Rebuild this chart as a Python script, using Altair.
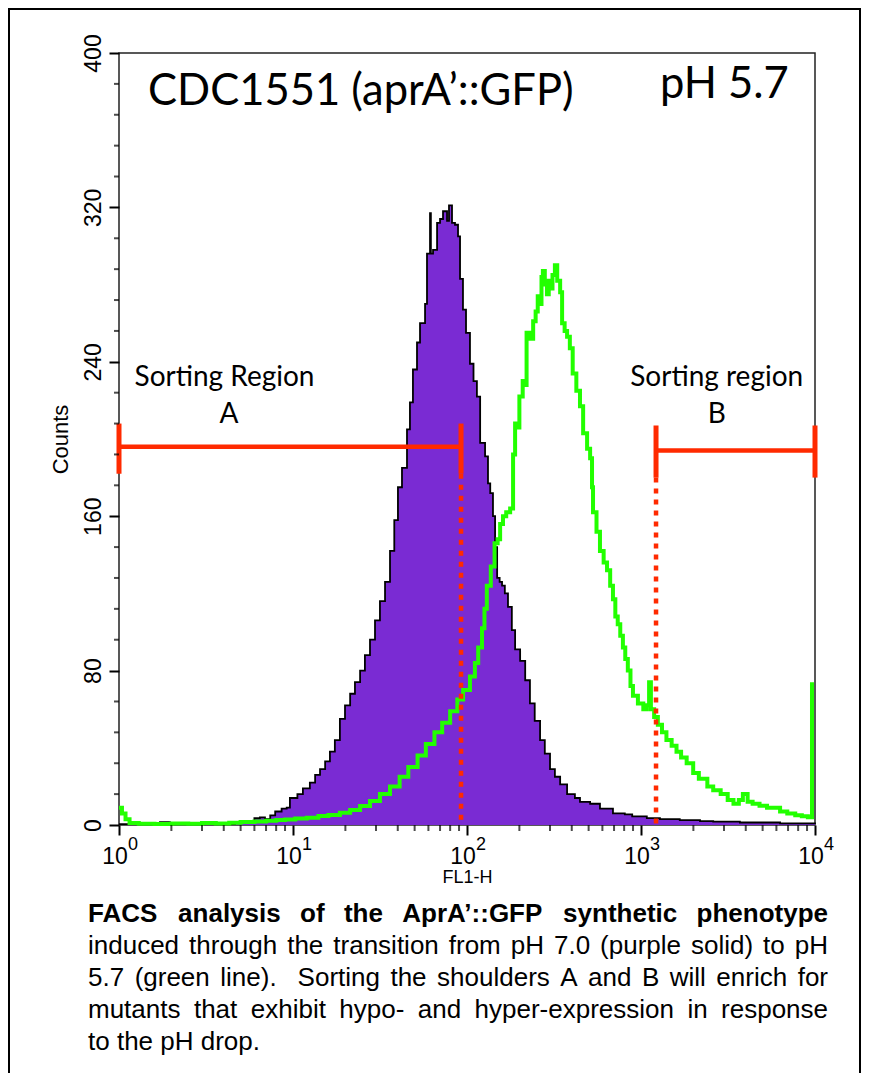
import altair as alt
import pandas as pd

# ---------------- data ----------------
# pH 7.0 histogram (purple, filled)  -- FL1-H value, counts
purple_fl1 = [1.0, 1.5, 1.72, 1.96, 2.56, 2.73, 3.33, 3.56, 4.64, 5.3,
              6.0, 6.45, 6.9, 7.4, 7.9, 8.6, 9.2, 9.6, 10.6, 11.4,
              12.5, 13.4, 14.3, 15.3, 16.3, 17.4, 18.6, 19.9, 21.3, 22.7,
              24.3, 25.9, 27.7, 29.6, 31.6, 33.8, 36.1, 38.2, 40.1, 42.3,
              45.2, 47.0, 48.9, 51.6, 53.7, 57.4, 58.9, 61.3, 62.0, 63.8,
              67.3, 70.0, 72.8, 76.8, 78.8, 82.0, 85.3, 88.8, 91.2, 94.8,
              98.7, 104, 109, 114, 119, 127, 132, 136, 141, 145,
              149, 154, 159, 165, 172, 181, 189, 202, 216, 230,
              245, 263, 280, 300, 320, 343, 376, 417, 446, 510,
              581, 690, 807, 890, 1080, 1285, 1670, 2183, 2600, 3700,
              6300, 10000]
purple_counts = [0.5, 0.5, 1.5, 0.5, 1, 0.5, 1.5, 0.5, 1.5, 1.5,
                 3.5, 4, 3, 5, 7, 8.5, 9, 14, 16, 19,
                 22, 26, 29, 33, 38, 44, 55, 62, 68, 74,
                 80, 88, 96, 106, 116, 126, 142, 158, 175, 185,
                 205, 219, 236, 250, 260, 270, 296, 317, 296, 298,
                 312, 314, 318, 313, 321, 312, 311, 305, 283, 267,
                 255, 239, 230, 222, 198, 191, 177, 172, 160, 144,
                 128, 126, 124, 120, 113, 101, 91, 85, 75, 63,
                 54, 44, 37, 29, 25, 21, 16, 14, 12, 11,
                 8.5, 6, 5.5, 4.5, 3.6, 3, 2.5, 2, 1.7, 1.3,
                 0.8, 0.5]

# pH 5.7 histogram (green line)
green_fl1 = [1.0, 1.04, 1.09, 1.15, 1.3, 1.6, 2.0, 2.5, 3.0, 3.6,
             4.3, 5.0, 6.0, 7.0, 8.0, 9.0, 10.3, 12.0, 14.0, 16.0,
             18.6, 21.3, 24.3, 27.7, 31.6, 36.1, 41.0, 46.0, 52.0, 58.0,
             65.0, 72.0, 80.0, 88.0, 95.0, 104, 111, 116, 122, 126,
             130, 137, 144, 150, 155, 161, 168, 177, 184, 189,
             194, 200, 209, 215, 220, 230, 240, 248, 255, 262,
             268, 273, 280, 288, 295, 300, 310, 320, 330, 343,
             352, 364, 376, 390, 405, 425, 446, 465, 490, 510,
             523, 530, 555, 581, 610, 638, 665, 690, 712, 735,
             760, 787, 812, 840, 870, 899, 960, 1031, 1080, 1113,
             1140, 1190, 1250, 1320, 1400, 1500, 1600, 1700, 1830, 1995,
             2150, 2406, 2600, 2870, 3150, 3400, 3650, 3850, 4100, 4380,
             4800, 5300, 5740, 6300, 6930, 7700, 8400, 9100, 9610]
green_counts = [9, 6, 3, 1, 0.6, 0.5, 0.8, 0.6, 1.0, 0.8,
                1.2, 1.5, 1.8, 2.2, 2.6, 2.8, 3.4, 3.8, 4.6, 5.2,
                6.4, 7.8, 9.8, 12.5, 16, 20, 25, 30, 36, 42,
                48, 53, 59, 65, 70, 77, 84, 92, 102, 112,
                124, 134, 146, 148, 156, 160, 162, 164, 192, 208,
                206, 222, 230, 228, 255, 252, 261, 266, 274, 270,
                284, 287, 280, 275, 282, 278, 285, 290, 282, 276,
                260, 256, 253, 247, 234, 225, 217, 203, 195, 190,
                175, 162, 152, 142, 136, 132, 124, 117, 108, 104,
                98, 92, 86, 80, 72, 67, 63, 60, 62, 74,
                60, 56, 52, 48, 44, 41, 38, 35, 32, 27,
                24, 20, 18, 16, 13, 11, 13, 16, 12, 11,
                10, 9, 9, 7, 6, 5, 4.5, 4, 74]

# sorting regions A and B
region_x1 = [1.0, 1220]
region_x2 = [92.4, 10000]
region_y = [196, 194]
cap_lo = [182, 180]
cap_hi = [208, 207]
gate_x = [92.4, 1220]          # dotted gate lines
gate_top = [182, 180]

# axes
y_major = [0, 80, 160, 240, 320, 400]
y_minor = [16, 32, 48, 64, 96, 112, 128, 144, 176, 192, 208, 224,
           256, 272, 288, 304, 336, 352, 368, 384]
x_major = [1, 10, 100, 1000, 10000]
x_exponents = ["0", "1", "2", "3", "4"]
x_minor = [2, 3, 4, 5, 6, 7, 8, 9,
           20, 30, 40, 50, 60, 70, 80, 90,
           200, 300, 400, 500, 600, 700, 800, 900,
           2000, 3000, 4000, 5000, 6000, 7000, 8000, 9000]

# annotation texts
big_texts = ["CDC1551 (aprA\u2019::GFP)", "pH 5.7"]
big_x = [1.468, 1286]
big_y = [373, 376.7]
sort_texts = ["Sorting Region", "A", "Sorting region", "B"]
sort_x = [4.04, 4.29, 2723, 2723]
sort_y = [227.5, 208.3, 227.3, 208.2]

caption_lines = [
    "FACS analysis of the AprA\u2019::GFP synthetic phenotype",
    "induced through the transition from pH 7.0 (purple solid) to pH",
    "5.7 (green line).  Sorting the shoulders A and B will enrich for",
    "mutants that exhibit hypo- and hyper-expression in response",
    "to the pH drop.",
]
caption_bold = [True, False, False, False, False]
caption_justify = [True, True, True, True, False]

# ---------------- styling ----------------
W, H = 696, 772
PURPLE = "#7a2bd3"
GREEN = "#22ff00"
RED = "#ff2a00"
SANS = "Liberation Sans, Arial, Helvetica, sans-serif"
CALI = "Lato, Open Sans, sans-serif"

X_SCALE = alt.Scale(type="log", domain=[1, 10000], nice=False)
Y_SCALE = alt.Scale(domain=[0, 400], nice=False, zero=False)

X_AXIS = alt.Axis(values=x_major, labels=False, tickSize=10, tickWidth=2,
                  tickColor="black", domain=False, grid=False,
                  title="FL1-H", titlePadding=32)
Y_AXIS = alt.Axis(values=y_major, tickSize=10, tickWidth=2, tickColor="black",
                  domain=False, grid=False, labelAngle=270, labelAlign="center",
                  labelBaseline="alphabetic", labelPadding=9, labelFont=SANS,
                  labelFontSize=23, labelColor="black", title="Counts",
                  titlePadding=10)


def X(f):
    return alt.X(f"{f}:Q", scale=X_SCALE, axis=X_AXIS)


def Y(f):
    return alt.Y(f"{f}:Q", scale=Y_SCALE, axis=Y_AXIS)


purple = pd.DataFrame({"fl1": purple_fl1, "count": purple_counts})
green = pd.DataFrame({"fl1": green_fl1, "count": green_counts})

area = alt.Chart(purple).mark_area(interpolate="step-after", color=PURPLE).encode(
    x=X("fl1"), y=Y("count"))
outline = alt.Chart(purple).mark_line(interpolate="step-after", color="black",
                                      strokeWidth=1.8).encode(x=X("fl1"), y=Y("count"))
gline = alt.Chart(green).mark_line(interpolate="step-after", color=GREEN,
                                   strokeWidth=4).encode(x=X("fl1"), y=Y("count"))

regions = pd.DataFrame({"fl1": region_x1, "x2": region_x2, "count": region_y})
caps = pd.DataFrame({"fl1": region_x1 + region_x2, "count": cap_lo + cap_lo,
                     "hi": cap_hi + cap_hi})
gates = pd.DataFrame({"fl1": gate_x, "count": gate_top, "base": [0, 0]})

hbar = alt.Chart(regions).mark_rule(color=RED, strokeWidth=4.5).encode(
    x=X("fl1"), x2="x2:Q", y=Y("count"))
capr = alt.Chart(caps).mark_rule(color=RED, strokeWidth=5).encode(
    x=X("fl1"), y=Y("count"), y2="hi:Q")
gate = alt.Chart(gates).mark_rule(color=RED, strokeWidth=4.5, strokeDash=[5, 6]).encode(
    x=X("fl1"), y=Y("count"), y2="base:Q")

yminor = alt.Chart(pd.DataFrame({"count": y_minor, "fl1": 1})).mark_tick(
    orient="horizontal", size=5, thickness=2, xOffset=-2.5, color="black").encode(
    x=X("fl1"), y=Y("count"))
xminor = alt.Chart(pd.DataFrame({"fl1": x_minor, "count": 0})).mark_tick(
    orient="vertical", size=6, thickness=2, yOffset=3, color="black").encode(
    x=X("fl1"), y=Y("count"))

xl = pd.DataFrame({"fl1": x_major, "count": 0, "exp": x_exponents, "base": "10"})
xbase = alt.Chart(xl).mark_text(font=SANS, fontSize=23, align="center",
                                baseline="alphabetic", dx=-4, dy=39, color="black").encode(
    x=X("fl1"), y=Y("count"), text="base:N")
xexp = alt.Chart(xl).mark_text(font=SANS, fontSize=18, align="left",
                               baseline="alphabetic", dx=9, dy=25, color="black").encode(
    x=X("fl1"), y=Y("count"), text="exp:N")

bigt = alt.Chart(pd.DataFrame({"fl1": big_x, "count": big_y, "t": big_texts})).mark_text(
    font=CALI, fontSize=43.5, align="left", baseline="alphabetic", color="black").encode(
    x=X("fl1"), y=Y("count"), text="t:N")
sortt = alt.Chart(pd.DataFrame({"fl1": sort_x, "count": sort_y, "t": sort_texts})).mark_text(
    font=CALI, fontSize=28, align="center", baseline="alphabetic", color="black").encode(
    x=X("fl1"), y=Y("count"), text="t:N")

# ---- caption, justified like the original (Arial metrics) ----
AR = {'a': 556, 'b': 556, 'c': 500, 'd': 556, 'e': 556, 'f': 278, 'g': 556, 'h': 556,
      'i': 222, 'j': 222, 'k': 500, 'l': 222, 'm': 833, 'n': 556, 'o': 556, 'p': 556,
      'q': 556, 'r': 333, 's': 500, 't': 278, 'u': 556, 'v': 500, 'w': 722, 'x': 500,
      'y': 500, 'z': 500, 'A': 667, 'B': 667, 'C': 722, 'F': 611, 'G': 778, 'H': 722,
      'P': 667, 'S': 667, ' ': 278, '.': 278, '(': 333, ')': 333, '-': 333,
      '\u2019': 222, ':': 278}
ARB = {'a': 556, 'c': 556, 'e': 556, 'f': 333, 'h': 611, 'i': 278, 'l': 278, 'n': 611,
       'o': 611, 'p': 611, 'r': 389, 's': 556, 't': 333, 'y': 556, 'A': 722, 'C': 722,
       'F': 611, 'G': 778, 'P': 667, 'S': 667, ' ': 278, '\u2019': 278, ':': 333}
FS = 26
CAP_L, CAP_R = -31, 709
CAP_Y0, CAP_DY = 869, 32

rows = []
for i, line in enumerate(caption_lines):
    tab = ARB if caption_bold[i] else AR
    words = line.split(" ")
    widths = [sum(tab.get(c, 556) for c in w) * FS / 1000 for w in words]
    sp = tab[' '] * FS / 1000
    gaps = len(words) - 1
    natural = sum(widths) + gaps * sp
    extra = (CAP_R - CAP_L - natural) / gaps if caption_justify[i] else 0
    px = CAP_L
    py = CAP_Y0 + i * CAP_DY
    for w, wd in zip(words, widths):
        if w:
            rows.append({"fl1": 10 ** (px / W * 4), "count": (H - py) / H * 400,
                         "t": w, "bold": caption_bold[i]})
        px += wd + sp + extra
cap = pd.DataFrame(rows)
cap_bold = alt.Chart(cap[cap["bold"]]).mark_text(
    font=SANS, fontSize=FS, fontWeight="bold", align="left", baseline="alphabetic",
    color="black").encode(x=X("fl1"), y=Y("count"), text="t:N")
cap_reg = alt.Chart(cap[~cap["bold"]]).mark_text(
    font=SANS, fontSize=FS, align="left", baseline="alphabetic",
    color="black").encode(x=X("fl1"), y=Y("count"), text="t:N")

frame = alt.Chart(pd.DataFrame({"k": [0]})).mark_rect(
    fillOpacity=0, stroke="black", strokeWidth=2).encode(
    x=alt.value(-110), x2=alt.value(741), y=alt.value(-44), y2=alt.value(1100))

chart = alt.layer(
    area, outline, gline, gate, hbar, capr, yminor, xminor, xbase, xexp,
    bigt, sortt, cap_bold, cap_reg, frame
).properties(
    width=W, height=H,
    padding={"left": 111, "top": 45, "right": 46, "bottom": 248},
    autosize=alt.AutoSizeParams(type="none"),
    background="white",
).configure_view(
    stroke="#222222", strokeWidth=1.5
).configure_axis(
    titleFont=SANS, titleFontWeight="normal", titleColor="black"
).configure_axisX(
    titleFontSize=18
).configure_axisY(
    titleFontSize=22
)

chart.save("out.html", embed_options={"renderer": "svg", "actions": False})
